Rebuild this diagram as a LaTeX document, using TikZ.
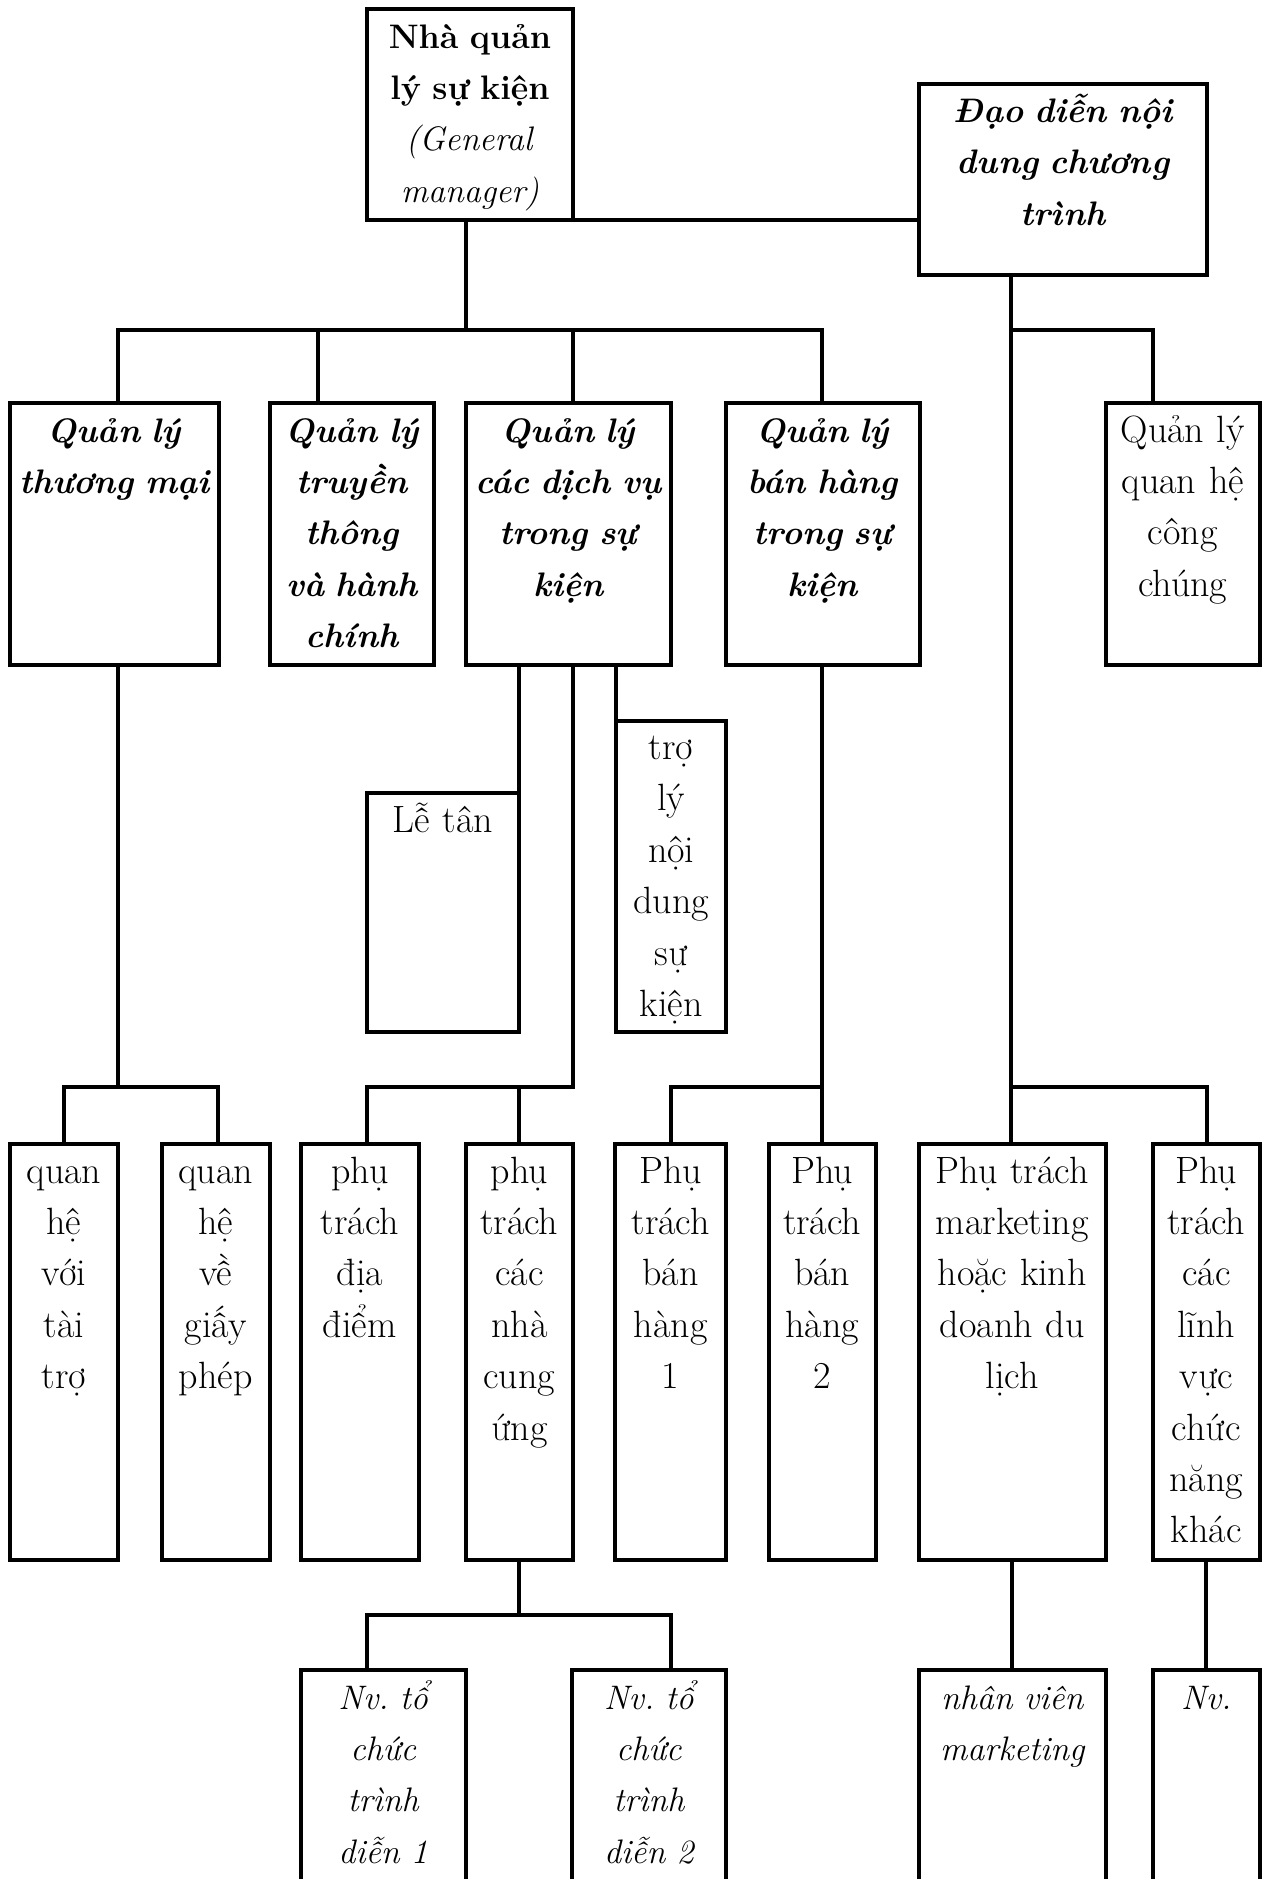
\documentclass[tikz,border=0pt]{standalone}
\usepackage{fontspec}
\newcommand\fsz{\fontsize{19}{25.7}\selectfont\frenchspacing}
\newcommand\fsm{\fontsize{17}{25.7}\selectfont\frenchspacing}
\newcommand\bx[5]{\node[box, minimum width={(#4-#2)*0.5pt}, minimum height={(#5-#3)*0.5pt}] (#1) at ({(#2+#4)/2},{(#3+#5)/2}) {};}
\newcommand\tx[4]{\node[#2, yshift=-19.5pt] (#1) at (#3.north) {#4};}
\tikzset{
  box/.style={draw, rectangle, line width=2pt, inner sep=0pt, outer sep=0pt},
  conn/.style={line width=2pt},
  txt/.style={anchor=base, align=center, inner sep=0pt, text width=150pt, font=\fsz},
  smx/.style={txt, font=\fsm},
  bit/.style={txt, font=\fsm\bfseries\itshape},
  itx/.style={txt, font=\fsm\itshape}
}
\begin{document}
\begin{tikzpicture}[x=0.5pt, y=-0.5pt]
\useasboundingbox (0,0) rectangle (1262,1879);
\clip (0,0) rectangle (1262,1879);
% boxes
\bx{GM}{367}{9}{573}{220}
\bx{DD}{919}{83.5}{1207}{275}
\bx{A}{10}{403}{218.5}{665}
\bx{B}{270}{403}{434}{665}
\bx{C}{465.6}{403}{671}{665}
\bx{D}{725.6}{403}{919.5}{665}
\bx{E}{1106}{403}{1259.6}{665}
\bx{LT}{367}{793}{519}{1032}
\bx{TL}{616}{720.5}{726.4}{1032}
\bx{b1}{10}{1144}{118}{1560}
\bx{b2}{162}{1144}{269.6}{1560}
\bx{b3}{300.6}{1144}{419}{1560}
\bx{b4}{465.6}{1144}{573}{1560}
\bx{b5}{615}{1144}{726.4}{1560}
\bx{b6}{768.6}{1144}{875.7}{1560}
\bx{b7}{918.7}{1144}{1105.8}{1560}
\bx{b8}{1153}{1144}{1259.6}{1560}
\bx{n1}{300.6}{1670}{465.6}{1930}
\bx{n2}{572}{1670}{725.6}{1930}
\bx{n3}{918.7}{1670}{1105.8}{1930}
\bx{n4}{1153}{1670}{1259.6}{1930}
% texts
\tx{tGM}{smx}{GM}{\textbf{Nhà quản}\\\textbf{lý sự kiện}\\\textit{(General}\\\textit{manager)}}
\tx{tDD}{bit}{DD}{Đạo diễn nội\\dung chương\\trình}
\tx{tA}{bit}{A}{Quản lý\\thương mại}
\tx{tB}{bit}{B}{Quản lý\\truyền\\thông\\và hành\\chính}
\tx{tC}{bit}{C}{Quản lý\\các dịch vụ\\trong sự\\kiện}
\tx{tD}{bit}{D}{Quản lý\\bán hàng\\trong sự\\kiện}
\tx{tE}{txt}{E}{Quản lý\\quan hệ\\công\\chúng}
\tx{tLT}{txt}{LT}{Lễ tân}
\tx{tTL}{txt}{TL}{trợ\\lý\\nội\\dung\\sự\\kiện}
\tx{tb1}{txt}{b1}{quan\\hệ\\với\\tài\\trợ}
\tx{tb2}{txt}{b2}{quan\\hệ\\về\\giấy\\phép}
\tx{tb3}{txt}{b3}{phụ\\trách\\địa\\điểm}
\tx{tb4}{txt}{b4}{phụ\\trách\\các\\nhà\\cung\\ứng}
\tx{tb5}{txt}{b5}{Phụ\\trách\\bán\\hàng\\1}
\tx{tb6}{txt}{b6}{Phụ\\trách\\bán\\hàng\\2}
\tx{tb7}{txt}{b7}{Phụ trách\\marketing\\hoặc kinh\\doanh du\\lịch}
\tx{tb8}{txt}{b8}{Phụ\\trách\\các\\lĩnh\\vực\\chức\\năng\\khác}
\tx{tn1}{itx}{n1}{Nv. tổ\\chức\\trình\\diễn 1}
\tx{tn2}{itx}{n2}{Nv. tổ\\chức\\trình\\diễn 2}
\tx{tn3}{itx}{n3}{nhân viên\\marketing}
\tx{tn4}{itx}{n4}{Nv.}
% junction points
\coordinate (jGM) at (466,330);
\coordinate (jA) at (117.5,330);
\coordinate (jB) at (318,330);
\coordinate (jC) at (573,330);
\coordinate (jD) at (822,330);
\coordinate (jE) at (1153,330);
\coordinate (jDD) at (1011,330);
\coordinate (kA) at (117.5,1087);
\coordinate (kb1) at (64,1087);
\coordinate (kb2) at (217.7,1087);
\coordinate (kC) at (573,1087);
\coordinate (kb3) at (367.4,1087);
\coordinate (kb4) at (519,1087);
\coordinate (kD) at (821.5,1087);
\coordinate (kb5) at (671,1087);
\coordinate (kDD) at (1011,1087);
\coordinate (kb8) at (1207,1087);
\coordinate (m4) at (519,1614.6);
\coordinate (mn1) at (367.4,1614.6);
\coordinate (mn2) at (671,1614.6);
\coordinate (cLT) at (519,0);
\coordinate (cTL) at (616,0);
% connectors
\draw[conn] (GM.south -| jGM) -- (jGM);
\draw[conn] (A.north -| jA) -- (jA) -- (jD) -- (D.north -| jD);
\draw[conn] (B.north -| jB) -- (jB);
\draw[conn] (C.north -| jC) -- (jC);
\draw[conn] (GM.south east) -- (GM.south east -| DD.west);
\draw[conn] (DD.south -| jDD) -- (b7.north -| jDD);
\draw[conn] (jDD) -| (E.north -| jE);
\draw[conn] (kDD) -| (b8.north -| kb8);
\draw[conn] (A.south -| kA) -- (kA);
\draw[conn] (b1.north -| kb1) -- (kb1) -- (kb2) -- (b2.north -| kb2);
\draw[conn] (C.south -| cLT) -- (LT.north east);
\draw[conn] (C.south -| cTL) -- (TL.north west);
\draw[conn] (C.south -| kC) -- (kC) -- (kb3) -- (b3.north -| kb3);
\draw[conn] (b4.north -| kb4) -- (kb4);
\draw[conn] (D.south -| kD) -- (b6.north -| kD);
\draw[conn] (b5.north -| kb5) -- (kb5) -- (kD);
\draw[conn] (b4.south -| m4) -- (m4);
\draw[conn] (n1.north -| mn1) -- (mn1) -- (mn2) -- (n2.north -| mn2);
\draw[conn] (b7.south) -- (n3.north);
\draw[conn] (b8.south) -- (n4.north);
\end{tikzpicture}
\end{document}
